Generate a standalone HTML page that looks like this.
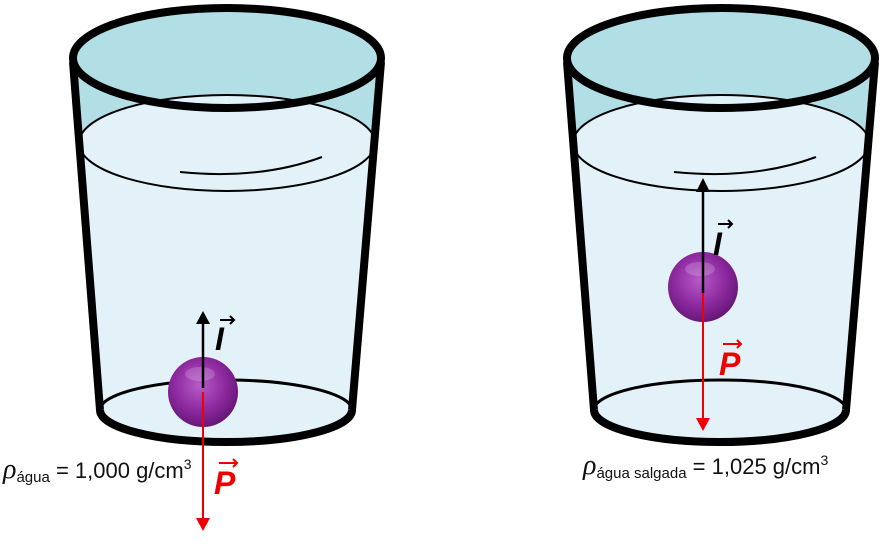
<!DOCTYPE html>
<html><head><meta charset="utf-8"><style>
html,body{margin:0;padding:0;background:#fff;width:892px;height:550px;overflow:hidden}
svg text{font-family:"Liberation Sans",sans-serif}
</style></head><body>
<svg width="892" height="550" viewBox="0 0 892 550" xmlns="http://www.w3.org/2000/svg">
<defs>
<radialGradient id="ball" cx="0.45" cy="0.4" r="0.65">
<stop offset="0" stop-color="#b65cc8"/><stop offset="0.55" stop-color="#8e2aa0"/><stop offset="1" stop-color="#5f1370"/>
</radialGradient>
<clipPath id="rimclip"><ellipse cx="227" cy="58" rx="154" ry="50"/></clipPath>
<g id="glass">
<path d="M73,62 L100,410 A126,32 0 0 0 352,410 L381,62 Z" fill="#e3f2f9"/>
<path d="M73,62 L79,143 A148,48 0 0 1 375,143 L381,62 Z" fill="#b2dfe6"/>
<ellipse cx="227" cy="143" rx="148" ry="48" fill="none" stroke="#000" stroke-width="2"/>
<path d="M180,172 Q260,180 322,157" fill="none" stroke="#000" stroke-width="2"/>
<ellipse cx="226" cy="410" rx="126" ry="30" fill="#e3f2f9" stroke="#000" stroke-width="3"/>
<path d="M100,410 A126,32 0 0 0 352,410" fill="none" stroke="#000" stroke-width="8"/>
<path d="M73,62 L100,410 M381,62 L352,410" stroke="#000" stroke-width="8" fill="none"/>
<ellipse cx="227" cy="58" rx="154" ry="50" fill="#b2dfe6"/>
<ellipse cx="227" cy="143" rx="148" ry="48" fill="#e3f2f9" stroke="#000" stroke-width="2" clip-path="url(#rimclip)"/>
<ellipse cx="227" cy="58" rx="154" ry="50" fill="none" stroke="#000" stroke-width="8"/>
</g>
</defs>
<use href="#glass"/>
<use href="#glass" transform="translate(494,0)"/>

<!-- left -->
<circle cx="203" cy="392" r="35" fill="url(#ball)"/>
<ellipse cx="200" cy="374" rx="15" ry="7" fill="#fff" opacity="0.18"/>
<line x1="203" y1="388" x2="203" y2="322" stroke="#000" stroke-width="2.5"/>
<polygon points="196,324 210,324 203,311" fill="#000"/>
<line x1="203" y1="392" x2="203" y2="520" stroke="#e00" stroke-width="2"/>
<polygon points="196,518 210,518 203,531" fill="#e00"/>
<text x="215" y="350" font-size="32" font-weight="bold" font-style="italic">I</text>
<path d="M220,320 L234,320 M230,316 L234,320 L230,324" stroke="#000" stroke-width="2" fill="none"/>
<text x="214" y="494" font-size="32" font-weight="bold" font-style="italic" fill="#e00">P</text>
<path d="M219,463 L237,463 M233,459 L237,463 L233,467" stroke="#e00" stroke-width="2" fill="none"/>
<text x="3" y="478" font-size="22" fill="#111"><tspan font-family="Liberation Serif" font-style="italic" font-size="28">ρ</tspan><tspan font-size="15" dy="4">água</tspan><tspan dy="-4"> = 1,000 g/cm</tspan><tspan font-size="14" dy="-9">3</tspan></text>

<!-- right -->
<circle cx="703" cy="287" r="35" fill="url(#ball)"/>
<ellipse cx="700" cy="269" rx="15" ry="7" fill="#fff" opacity="0.18"/>
<line x1="703" y1="293" x2="703" y2="190" stroke="#000" stroke-width="2.5"/>
<polygon points="696,192 710,192 703,178" fill="#000"/>
<line x1="703" y1="293" x2="703" y2="420" stroke="#e00" stroke-width="2"/>
<polygon points="696,418 710,418 703,431" fill="#e00"/>
<text x="713" y="255" font-size="32" font-weight="bold" font-style="italic">I</text>
<path d="M718,224 L732,224 M728,220 L732,224 L728,228" stroke="#000" stroke-width="2" fill="none"/>
<text x="719" y="375" font-size="32" font-weight="bold" font-style="italic" fill="#e00">P</text>
<path d="M723,344 L741,344 M737,340 L741,344 L737,348" stroke="#e00" stroke-width="2" fill="none"/>
<text x="583" y="474" font-size="22" fill="#111"><tspan font-family="Liberation Serif" font-style="italic" font-size="28">ρ</tspan><tspan font-size="15" dy="4">água salgada</tspan><tspan dy="-4"> = 1,025 g/cm</tspan><tspan font-size="14" dy="-9">3</tspan></text>
</svg>
</body></html>
